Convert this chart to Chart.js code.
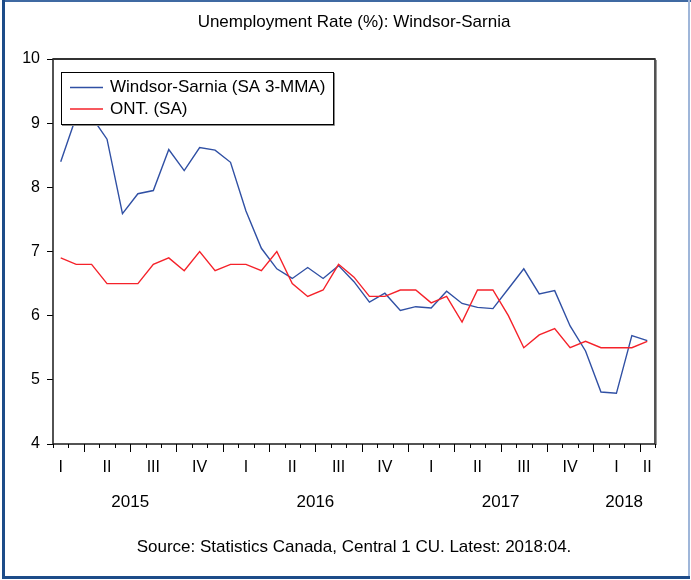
<!DOCTYPE html>
<html>
<head>
<meta charset="utf-8">
<title>Unemployment Rate (%): Windsor-Sarnia</title>
<script src="https://cdn.jsdelivr.net/npm/chart.js@4.4.1/dist/chart.umd.min.js"></script>
<style>
  html, body { margin: 0; padding: 0; background: #fff; }
  #wrap { width: 691px; height: 580px; }
</style>
</head>
<body>
<div id="wrap"><canvas id="urChart" width="691" height="580"></canvas></div>
<script>
// monthly observations, Feb 2015 .. Apr 2018
const months = [
  '2015-02', '2015-03', '2015-04', '2015-05', '2015-06', '2015-07', '2015-08', '2015-09', '2015-10', '2015-11', '2015-12',
  '2016-01', '2016-02', '2016-03', '2016-04', '2016-05', '2016-06', '2016-07', '2016-08', '2016-09', '2016-10', '2016-11', '2016-12',
  '2017-01', '2017-02', '2017-03', '2017-04', '2017-05', '2017-06', '2017-07', '2017-08', '2017-09', '2017-10', '2017-11', '2017-12',
  '2018-01', '2018-02', '2018-03', '2018-04'
];
const windsorSarnia = [
  8.40, 9.10, 9.10, 8.75, 7.59, 7.90, 7.95, 8.59, 8.26, 8.62, 8.58,
  8.39, 7.63, 7.05, 6.73, 6.58, 6.75, 6.58, 6.78, 6.53, 6.21, 6.35, 6.08,
  6.14, 6.12, 6.38, 6.19, 6.13, 6.11, 6.42, 6.73, 6.34, 6.39, 5.84, 5.45,
  4.81, 4.79, 5.69, 5.61
];
const ontario = [
  6.9, 6.8, 6.8, 6.5, 6.5, 6.5, 6.8, 6.9, 6.7, 7.0, 6.7,
  6.8, 6.8, 6.7, 7.0, 6.5, 6.3, 6.4, 6.8, 6.6, 6.3, 6.3, 6.4,
  6.4, 6.2, 6.3, 5.9, 6.4, 6.4, 6.0, 5.5, 5.7, 5.8, 5.5, 5.6,
  5.5, 5.5, 5.5, 5.6
];

// quarter and year labels, placed at a month index on the x scale
const quarterLabels = ['I', 'II', 'III', 'IV', 'I', 'II', 'III', 'IV', 'I', 'II', 'III', 'IV', 'I', 'II'];
const quarterAt = [0, 3, 6, 9, 12, 15, 18, 21, 24, 27, 30, 33, 36, 38];
const yearLabels = ['2015', '2016', '2017', '2018'];
const yearAt = [4.5, 16.5, 28.5, 36.5];

const FONT = "'Liberation Sans', Arial, sans-serif";

const eviewsFrame = {
  id: 'eviewsFrame',
  beforeDraw(chart) {
    const ctx = chart.ctx;
    ctx.save();
    ctx.fillStyle = '#fff';
    ctx.fillRect(0, 0, chart.width, chart.height);
    // outer border
    ctx.fillStyle = '#3f69a2';
    ctx.fillRect(2, 0, 689, 2);
    ctx.fillStyle = '#9fb6d9';
    ctx.fillRect(688, 0, 2, 578);
    ctx.fillStyle = '#1d4c89';
    ctx.fillRect(2, 0, 3, 579);
    ctx.fillRect(2, 576, 688, 3);
    ctx.restore();
  },
  afterDraw(chart) {
    const ctx = chart.ctx;
    const ca = chart.chartArea;
    const x = chart.scales.x;
    const cx = (ca.left + ca.right) / 2;
    ctx.save();

    // plot frame
    ctx.strokeStyle = '#999';
    ctx.lineWidth = 1;
    ctx.beginPath();
    ctx.moveTo(ca.right + 1.5, ca.top + 1);
    ctx.lineTo(ca.right + 1.5, ca.bottom + 1);
    ctx.stroke();
    ctx.strokeStyle = '#1a1a1a';
    ctx.lineWidth = 1.5;
    ctx.strokeRect(ca.left, ca.top, ca.right - ca.left, ca.bottom - ca.top);
    ctx.lineWidth = 2;
    ctx.strokeStyle = '#333';
    ctx.beginPath();
    ctx.moveTo(ca.left, ca.top);
    ctx.lineTo(ca.right, ca.top);
    ctx.stroke();

    // month ticks, longer at quarter starts
    ctx.strokeStyle = '#000';
    ctx.lineWidth = 1;
    for (let i = 0; i <= months.length; i++) {
      const px = Math.round(x.getPixelForValue(i - 0.5)) + 0.5;
      const m = i < months.length ? Number(months[i].slice(5)) : 5;
      const len = (m - 1) % 3 === 0 ? 8 : 4;
      ctx.beginPath();
      ctx.moveTo(px, ca.bottom);
      ctx.lineTo(px, ca.bottom + len);
      ctx.stroke();
    }

    ctx.fillStyle = '#000';
    ctx.textAlign = 'center';
    ctx.textBaseline = 'middle';
    ctx.font = '16px ' + FONT;
    quarterLabels.forEach((q, i) => {
      ctx.fillText(q, x.getPixelForValue(quarterAt[i]), ca.bottom + 24);
    });
    ctx.font = '17px ' + FONT;
    yearLabels.forEach((yr, i) => {
      ctx.fillText(yr, x.getPixelForValue(yearAt[i]), ca.bottom + 58);
    });

    ctx.fillText('Unemployment Rate (%): Windsor-Sarnia', cx, 22);
    ctx.fillText('Source: Statistics Canada, Central 1 CU. Latest: 2018:04.', cx, 547);

    // legend box
    const lx = ca.left + 8, ly = ca.top + 13, lw = 272, lh = 52;
    ctx.fillStyle = '#fff';
    ctx.fillRect(lx, ly, lw, lh);
    ctx.strokeStyle = '#888';
    ctx.lineWidth = 1;
    ctx.beginPath();
    ctx.moveTo(lx + lw + 1.5, ly + 1);
    ctx.lineTo(lx + lw + 1.5, ly + lh + 1.5);
    ctx.lineTo(lx + 1, ly + lh + 1.5);
    ctx.stroke();
    ctx.strokeStyle = '#000';
    ctx.strokeRect(lx + 0.5, ly + 0.5, lw, lh);
    ctx.textAlign = 'left';
    chart.data.datasets.forEach((ds, i) => {
      const ry = ly + 15.5 + i * 21.5;
      ctx.strokeStyle = ds.borderColor;
      ctx.lineWidth = ds.borderWidth;
      ctx.beginPath();
      ctx.moveTo(lx + 9, ry);
      ctx.lineTo(lx + 42, ry);
      ctx.stroke();
      ctx.fillStyle = '#000';
      ctx.fillText(ds.label, lx + 49, ry);
    });
    ctx.restore();
  }
};

new Chart(document.getElementById('urChart'), {
  type: 'line',
  data: {
    labels: months,
    datasets: [
      {
        label: 'Windsor-Sarnia (SA 3-MMA)',
        data: windsorSarnia,
        borderColor: '#3050a4',
        borderWidth: 1.4,
        pointRadius: 0,
        tension: 0,
        order: 1
      },
      {
        label: 'ONT. (SA)',
        data: ontario,
        borderColor: '#f5222a',
        borderWidth: 1.4,
        pointRadius: 0,
        tension: 0,
        order: 0
      }
    ]
  },
  options: {
    responsive: false,
    animation: false,
    layout: { padding: { top: 59, right: 36, bottom: 136, left: 0 } },
    plugins: {
      legend: { display: false },
      title: { display: false },
      tooltip: { enabled: false }
    },
    scales: {
      x: {
        type: 'category',
        offset: true,
        display: false
      },
      y: {
        min: 4,
        max: 10,
        ticks: {
          stepSize: 1,
          color: '#000',
          padding: 7,
          font: { family: FONT, size: 16 }
        },
        grid: { drawOnChartArea: false, tickLength: 6, color: '#000' },
        border: { display: false },
        afterFit(scale) { scale.width = 53; }
      }
    }
  },
  plugins: [eviewsFrame]
});
</script>
</body>
</html>
